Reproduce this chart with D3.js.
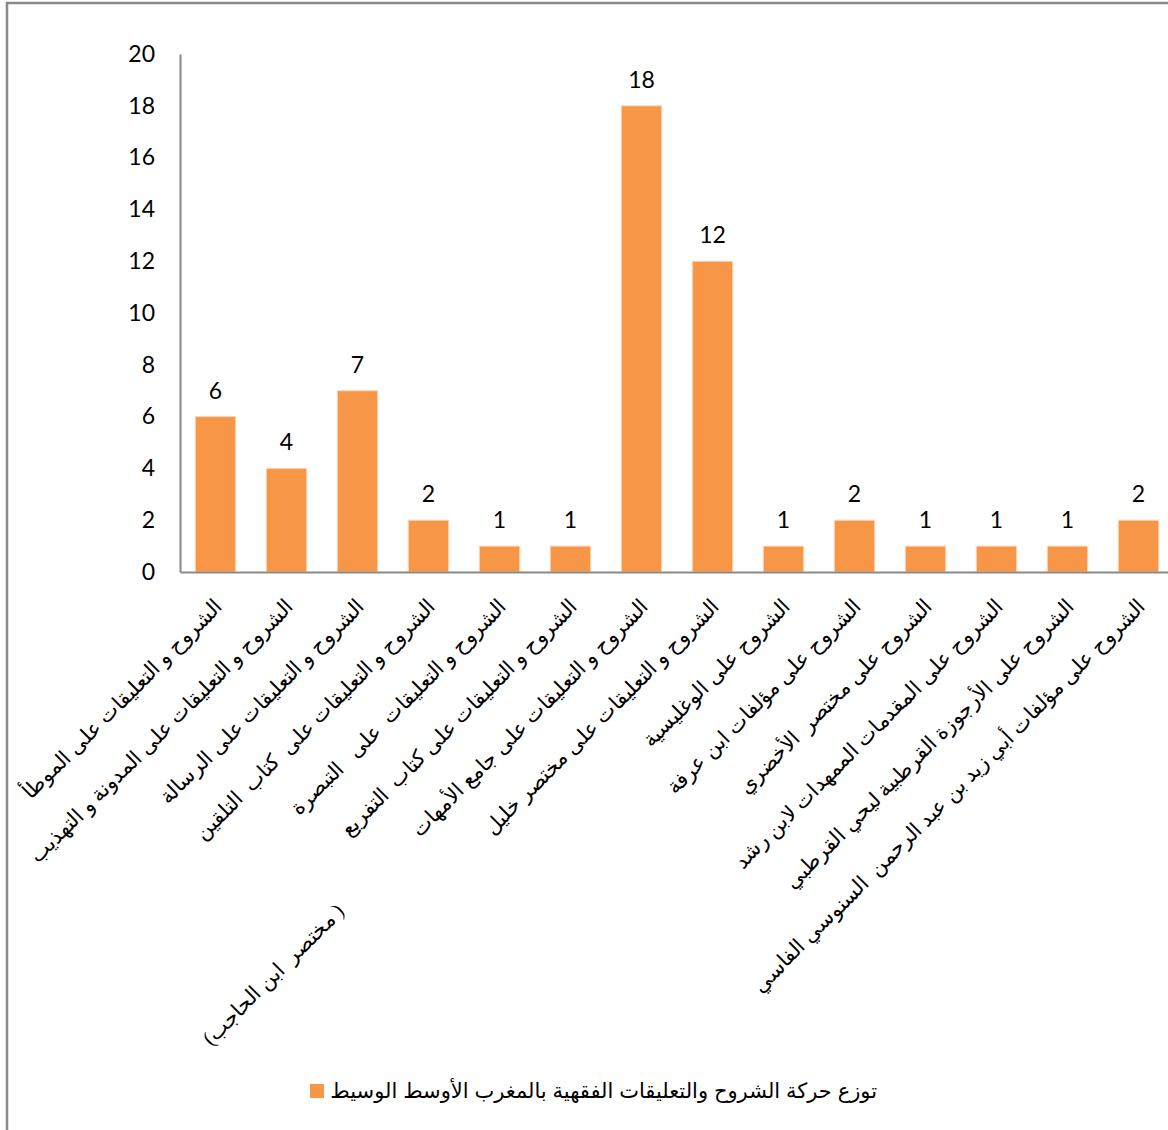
<!DOCTYPE html>
<html>
<head>
<meta charset="utf-8">
<script src="https://cdn.jsdelivr.net/npm/d3@7"></script>
<style>
  html, body { margin: 0; padding: 0; background: #fff; }
  svg { display: block; }
</style>
</head>
<body>
<svg id="chart" width="1168" height="1130"></svg>
<script>
// Categories (x axis), in display order
const categories = [
  "الشروح و التعليقات على الموطأ",
  "الشروح و التعليقات على المدونة و التهذيب",
  "الشروح و التعليقات على الرسالة",
  "الشروح و التعليقات على  كتاب  التلقين",
  "الشروح و التعليقات  على   التبصرة",
  "الشروح و التعليقات على كتاب  التفريع",
  "الشروح و التعليقات على جامع الأمهات                    ( مختصر  ابن الحاجب)",
  "الشروح و التعليقات على مختصر خليل",
  "الشروح على الوغليسية",
  "الشروح على مؤلفات ابن عرفة",
  "الشروح على مختصر  الأخضري",
  "الشروح على المقدمات الممهدات لابن رشد",
  "الشروح على الأرجوزة القرطبية ليحي القرطبي",
  "الشروح على مؤلفات أبي زيد بن عبد الرحمن  السنوسي الفاسي"
];

// Number of commentaries per category
const values = [6, 4, 7, 2, 1, 1, 18, 12, 1, 2, 1, 1, 1, 2];

// Y axis tick labels
const yTicks = [0, 2, 4, 6, 8, 10, 12, 14, 16, 18, 20];

const seriesName = "توزع حركة الشروح والتعليقات الفقهية بالمغرب الأوسط الوسيط";

const data = categories.map((c, i) => ({ category: c, value: values[i] }));

const svg = d3.select("#chart");
const barColor = "#F79646";
const axisColor = "#898989";
const numFont = "Lato, 'Open Sans', sans-serif";
const arFont = "'Times New Roman', 'Liberation Serif', 'DejaVu Serif', serif";

// Outer frame
svg.append("rect")
  .attr("x", 7).attr("y", 3)
  .attr("width", 1300).attr("height", 1300)
  .attr("fill", "none")
  .attr("stroke", axisColor)
  .attr("stroke-width", 2.5);

const x = d3.scaleBand()
  .domain(categories)
  .range([180, 1174])
  .paddingInner(0.43)
  .paddingOuter(0.215);

const y = d3.scaleLinear()
  .domain([0, 20])
  .range([572, 54]);

// Y axis
const yAxis = svg.append("g")
  .attr("transform", "translate(180,0)")
  .call(d3.axisLeft(y).tickValues(yTicks).tickSize(0).tickPadding(25));
yAxis.select(".domain").attr("stroke", axisColor).attr("stroke-width", 2);
yAxis.selectAll(".tick text")
  .attr("font-family", numFont)
  .attr("font-size", 23)
  .attr("fill", "#000");

// Bars
svg.append("g").selectAll("rect")
  .data(data)
  .join("rect")
  .attr("x", d => x(d.category))
  .attr("y", d => y(d.value))
  .attr("width", x.bandwidth())
  .attr("height", d => y(0) - y(d.value))
  .attr("fill", barColor)
  .attr("stroke", "#fcd9bd")
  .attr("stroke-width", 1);

// Value labels above bars
svg.append("g").selectAll("text")
  .data(data)
  .join("text")
  .attr("x", d => x(d.category) + x.bandwidth() / 2)
  .attr("y", d => y(d.value) - 18)
  .attr("text-anchor", "middle")
  .attr("font-family", numFont)
  .attr("font-size", 23)
  .attr("fill", "#000")
  .text(d => d.value);

// X axis line
const xAxis = svg.append("g")
  .attr("transform", `translate(0,${y(0)})`)
  .call(d3.axisBottom(x).tickSize(0).tickFormat(""));
xAxis.select(".domain").attr("stroke", axisColor).attr("stroke-width", 2);

// Rotated category labels
svg.append("g").selectAll("text")
  .data(data)
  .join("text")
  .attr("transform", d => `translate(${x(d.category) + x.bandwidth() / 2 + 8},${y(0) + 36}) rotate(-45)`)
  .attr("direction", "rtl")
  .attr("text-anchor", "start")
  .style("white-space", "pre")
  .attr("font-family", arFont)
  .attr("font-size", 21)
  .attr("fill", "#000")
  .text(d => d.category);

// Legend
const legend = svg.append("g").attr("transform", "translate(0,1091)");
legend.append("rect")
  .attr("x", 310).attr("y", -7)
  .attr("width", 14).attr("height", 14)
  .attr("fill", barColor);
legend.append("text")
  .attr("x", 877).attr("y", 0)
  .attr("dy", "0.35em")
  .attr("direction", "rtl")
  .attr("text-anchor", "start")
  .attr("font-family", "Arial, 'Liberation Sans', 'DejaVu Sans', sans-serif")
  .attr("font-size", 21)
  .attr("fill", "#000")
  .text(seriesName);
</script>
</body>
</html>
